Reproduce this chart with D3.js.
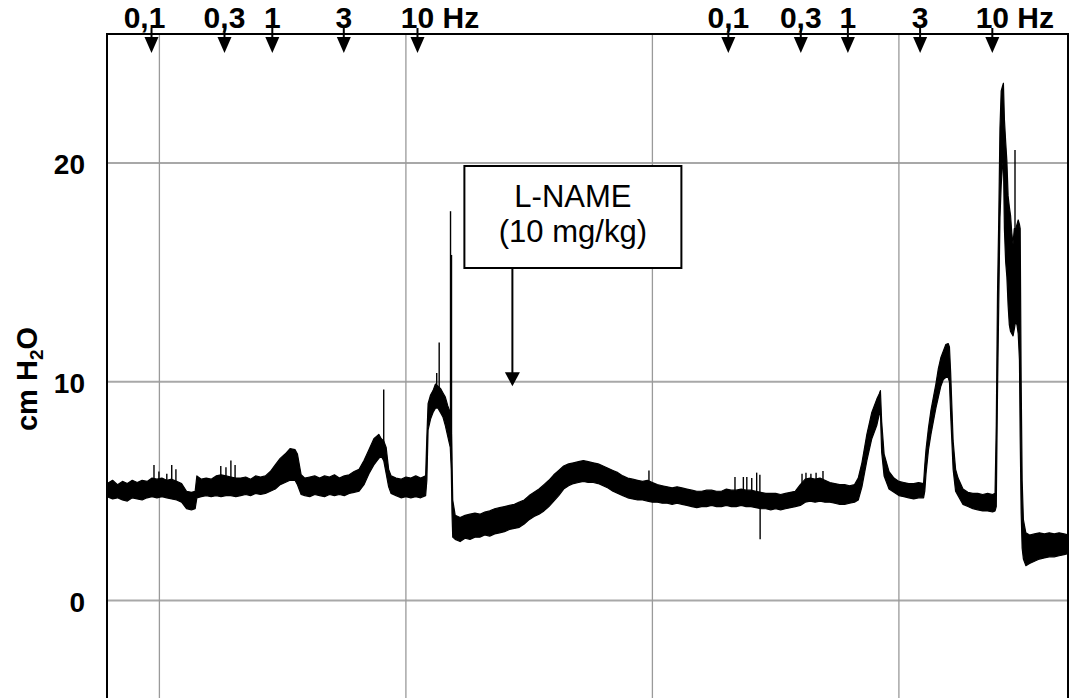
<!DOCTYPE html>
<html>
<head>
<meta charset="utf-8">
<script src="https://cdn.jsdelivr.net/npm/d3@7"></script>
<style>
  html, body { margin: 0; padding: 0; background: #fff; }
  svg { display: block; }
  text { font-family: Arial, "Liberation Sans", Helvetica, sans-serif; }
</style>
</head>
<body>
<svg id="chart" width="1071" height="698"></svg>
<script>
// Recording time (min) and the envelope of the pressure trace (cm H2O)
const time = [
  7.874, 8.1, 8.3, 8.5, 8.7, 8.9, 9.1, 9.3, 9.5, 9.7, 9.9, 10.1, 10.3, 10.5, 10.7, 10.9,
  11.1, 11.3, 11.45, 11.52, 11.7, 11.9, 12.1, 12.3, 12.5, 12.7, 12.9, 13.1, 13.3, 13.5, 13.7, 13.9,
  14.1, 14.3, 14.5, 14.7, 14.9, 15.1, 15.3, 15.5, 15.6, 15.75, 15.9, 16.1, 16.3, 16.5, 16.7, 16.9,
  17.1, 17.3, 17.5, 17.7, 17.9, 18.1, 18.3, 18.5, 18.7, 18.9, 19.0, 19.1, 19.2, 19.3, 19.4, 19.6,
  19.8, 20.0, 20.2, 20.4, 20.6, 20.8, 20.85, 20.9, 21.0, 21.1, 21.2, 21.3, 21.4, 21.5, 21.6, 21.7,
  21.8, 21.84, 21.87, 21.9, 22.0, 22.2, 22.4, 22.6, 22.8, 23.0, 23.2, 23.4, 23.6, 23.8, 24.0, 24.2,
  24.4, 24.6, 24.8, 25.0, 25.2, 25.4, 25.6, 25.8, 26.0, 26.2, 26.4, 26.6, 26.8, 27.0, 27.2, 27.4,
  27.6, 27.8, 28.0, 28.2, 28.4, 28.6, 28.8, 29.0, 29.2, 29.4, 29.6, 29.8, 30.0, 30.2, 30.4, 30.6,
  30.8, 31.0, 31.2, 31.4, 31.6, 31.8, 32.0, 32.2, 32.4, 32.6, 32.8, 33.0, 33.2, 33.4, 33.6, 33.8,
  34.0, 34.2, 34.4, 34.6, 34.8, 35.0, 35.2, 35.4, 35.6, 35.8, 36.0, 36.2, 36.4, 36.6, 36.8, 37.0,
  37.2, 37.4, 37.6, 37.8, 38.0, 38.2, 38.35, 38.5, 38.7, 38.9, 39.1, 39.2, 39.25, 39.3, 39.4, 39.6,
  39.8, 40.0, 40.2, 40.4, 40.6, 40.8, 41.0, 41.05, 41.1, 41.2, 41.3, 41.4, 41.5, 41.6, 41.7, 41.8,
  41.9, 42.0, 42.05, 42.1, 42.2, 42.3, 42.4, 42.6, 42.8, 43.0, 43.2, 43.4, 43.6, 43.8, 43.9, 43.95,
  44.0, 44.05, 44.1, 44.15, 44.2, 44.24, 44.28, 44.33, 44.38, 44.43, 44.48, 44.53, 44.58, 44.63, 44.68, 44.74,
  44.79, 44.84, 44.89, 44.92, 44.96, 45.0, 45.05, 45.15, 45.3, 45.5, 45.7, 45.9, 46.1, 46.3, 46.5, 46.7,
  46.86
];
const low = [
  4.75, 4.65, 4.7, 4.6, 4.55, 4.7, 4.65, 4.6, 4.7, 4.75, 4.7, 4.75, 4.7, 4.65, 4.6, 4.5,
  4.2, 4.15, 4.2, 4.7, 4.75, 4.8, 4.75, 4.8, 4.75, 4.8, 4.8, 4.75, 4.8, 4.85, 4.8, 4.9,
  4.85, 4.9, 5.0, 5.1, 5.3, 5.4, 5.5, 5.5, 5.3, 4.85, 4.8, 4.75, 4.85, 4.8, 4.75, 4.85,
  4.8, 4.85, 4.8, 4.9, 4.95, 5.0, 5.3, 5.8, 6.2, 6.5, 6.6, 6.4, 5.8, 5.2, 4.9, 4.8,
  4.7, 4.75, 4.7, 4.75, 4.7, 4.8, 5.5, 7.8, 8.3, 8.6, 8.8, 8.8, 8.6, 8.4, 8.0, 7.5,
  7.0, 6.0, 4.0, 2.9, 2.8, 2.7, 2.85, 2.8, 2.9, 2.9, 3.0, 2.95, 3.05, 3.1, 3.15, 3.25,
  3.3, 3.35, 3.5, 3.7, 3.85, 3.95, 4.1, 4.3, 4.55, 4.8, 5.1, 5.25, 5.35, 5.4, 5.45, 5.4,
  5.4, 5.35, 5.25, 5.15, 5.0, 4.9, 4.8, 4.7, 4.65, 4.6, 4.6, 4.55, 4.5, 4.5, 4.45, 4.45,
  4.4, 4.45, 4.4, 4.35, 4.3, 4.25, 4.3, 4.3, 4.35, 4.3, 4.3, 4.35, 4.3, 4.3, 4.35, 4.3,
  4.3, 4.25, 4.2, 4.2, 4.15, 4.2, 4.15, 4.2, 4.25, 4.3, 4.35, 4.5, 4.55, 4.5, 4.55, 4.5,
  4.5, 4.45, 4.4, 4.4, 4.45, 4.5, 4.6, 5.2, 6.4, 7.4, 8.0, 8.5, 8.6, 6.8, 5.7, 5.1,
  4.95, 4.8, 4.75, 4.7, 4.65, 4.7, 4.7, 5.0, 5.8, 6.9, 7.6, 8.2, 8.8, 9.3, 9.8, 10.1,
  10.2, 10.2, 10.0, 8.5, 6.0, 5.0, 4.8, 4.4, 4.3, 4.2, 4.15, 4.1, 4.1, 4.05, 4.1, 4.3,
  9.5, 13.5, 17.5, 19.0, 19.8, 20.2, 17.0, 15.5, 14.8, 13.5, 12.6, 12.3, 12.2, 12.1, 12.4, 12.8,
  12.6, 12.2, 11.0, 7.5, 4.0, 2.4, 1.9, 1.6, 1.7, 1.8, 1.9, 1.95, 2.0, 2.0, 2.05, 2.1,
  2.15
];
const high = [
  5.35, 5.5, 5.3, 5.45, 5.35, 5.5, 5.4, 5.5, 5.45, 5.6, 5.55, 5.6, 5.5, 5.55, 5.45, 5.35,
  5.0, 4.95, 5.0, 5.7, 5.55, 5.6, 5.55, 5.7, 5.75, 5.7, 5.65, 5.6, 5.6, 5.65, 5.55, 5.7,
  5.65, 5.7, 5.9, 6.2, 6.5, 6.7, 6.95, 6.9, 6.7, 5.75, 5.6, 5.65, 5.7, 5.6, 5.7, 5.65,
  5.75, 5.6, 5.7, 5.75, 5.9, 6.0, 6.4, 6.9, 7.4, 7.6, 7.4, 7.3, 7.0, 6.0, 5.7, 5.6,
  5.55, 5.65, 5.6, 5.7, 5.6, 5.7, 7.5, 9.0, 9.4, 9.6, 9.9, 9.8, 9.7, 9.5, 9.3, 8.9,
  8.6, 8.0, 6.5, 4.6, 3.9, 3.8, 3.9, 3.95, 4.0, 3.95, 4.05, 4.1, 4.2, 4.25, 4.3, 4.35,
  4.4, 4.5, 4.6, 4.8, 4.95, 5.1, 5.3, 5.5, 5.75, 5.95, 6.15, 6.25, 6.3, 6.35, 6.4, 6.35,
  6.3, 6.25, 6.15, 6.05, 5.95, 5.85, 5.7, 5.6, 5.55, 5.5, 5.45, 5.5, 5.4, 5.3, 5.25, 5.2,
  5.15, 5.2, 5.15, 5.1, 5.05, 5.0, 5.0, 5.05, 5.05, 5.0, 5.0, 5.1, 5.05, 5.05, 5.1, 5.05,
  5.05, 5.0, 4.95, 4.9, 4.9, 4.9, 4.85, 4.9, 4.95, 5.0, 5.3, 5.55, 5.6, 5.55, 5.6, 5.5,
  5.4, 5.35, 5.3, 5.3, 5.25, 5.3, 5.6, 6.3, 7.6, 8.6, 9.2, 9.45, 9.6, 8.2, 6.7, 5.9,
  5.6, 5.45, 5.4, 5.35, 5.35, 5.4, 5.35, 6.2, 6.9, 7.9, 8.7, 9.3, 9.9, 10.6, 11.1, 11.4,
  11.7, 11.75, 11.6, 10.4, 7.3, 6.0, 5.6, 5.1, 4.95, 4.9, 4.9, 4.85, 4.9, 4.85, 4.9, 8.0,
  14.0, 17.4, 21.6, 23.3, 23.5, 23.65, 22.0, 21.0, 20.1, 18.5, 18.0, 17.6, 16.8, 16.3, 17.0, 17.0,
  17.2, 17.4, 17.2, 17.0, 10.0, 5.5, 3.7, 3.1, 3.0, 3.05, 3.1, 3.05, 3.1, 3.05, 3.1, 3.05,
  3.0
];

// Isolated spikes on the trace (min, cm H2O)
const spikeTime = [9.78, 9.98, 10.30, 10.50, 10.67, 12.49, 12.70, 12.90, 13.07, 19.10, 21.25, 21.35,
  21.81, 21.85, 29.86, 33.35, 33.69, 33.83, 34.03, 34.23, 34.36, 34.37, 36.07, 36.23, 36.43, 36.64,
  36.92, 44.71];
const spikeValue = [6.2, 5.9, 5.8, 6.2, 6.0, 6.15, 6.1, 6.4, 6.2, 9.65, 10.4, 11.8,
  17.8, 15.8, 5.95, 5.65, 5.65, 5.65, 5.6, 5.85, 5.75, 2.8, 5.8, 5.85, 5.8, 5.85,
  5.92, 20.6];

// Stimulation markers
const stimTime = [9.68, 12.64, 14.58, 17.48, 20.47, 33.08, 36.02, 37.93, 40.86, 43.79];
const stimLabel = ["0,1", "0,3", "1", "3", "10", "0,1", "0,3", "1", "3", "10"];
const freqUnit = "Hz";

// Axis / grid values
const yTicks = [0, 10, 20];
const gridTimes = [10, 20, 30, 40];

// Drug injection
const drugTime = 24.32;
const drugArrowValue = 9.8;
const drugLabel = ["L-NAME", "(10 mg/kg)"];

const svg = d3.select("#chart");
const pL = 107, pR = 1068, pT = 34, pB = 710;

const x = d3.scaleLinear().domain([7.874, 46.86]).range([pL, pR]);
const y = d3.scaleLinear().domain([-5, 25.9]).range([pB, pT]);

// grid
svg.append("g")
  .selectAll("line").data(yTicks).join("line")
  .attr("x1", pL).attr("x2", pR)
  .attr("y1", d => y(d)).attr("y2", d => y(d))
  .attr("stroke", "#a8a8a8").attr("stroke-width", 2);
svg.append("g")
  .selectAll("line").data(gridTimes).join("line")
  .attr("x1", d => x(d)).attr("x2", d => x(d))
  .attr("y1", pT).attr("y2", pB)
  .attr("stroke", "#9a9a9a").attr("stroke-width", 1.3);

// y axis labels
const yAxis = svg.append("g")
  .attr("transform", `translate(${pL},0)`)
  .call(d3.axisLeft(y).tickValues(yTicks).tickSize(0).tickPadding(22).tickFormat(d3.format("d")));
yAxis.select(".domain").remove();
yAxis.selectAll("text")
  .attr("font-family", "Arial, 'Liberation Sans', sans-serif")
  .attr("font-size", 28).attr("font-weight", "bold").attr("fill", "#000")
  .attr("dy", "0.38em");

// y axis title
const yt = svg.append("text")
  .attr("transform", `translate(37,379) rotate(-90)`)
  .attr("text-anchor", "middle")
  .attr("font-size", 29).attr("font-weight", "bold");
yt.append("tspan").text("cm H");
yt.append("tspan").text("2").attr("font-size", 19).attr("dy", 6);
yt.append("tspan").text("O").attr("dy", -6);

// trace
svg.append("clipPath").attr("id", "plotclip")
  .append("rect").attr("x", pL).attr("y", pT).attr("width", pR - pL).attr("height", pB - pT);
const trace = svg.append("g").attr("clip-path", "url(#plotclip)");
const idx = d3.range(time.length);
trace.append("path")
  .datum(idx)
  .attr("d", d3.area().x(i => x(time[i])).y0(i => y(low[i])).y1(i => y(high[i])))
  .attr("fill", "#000").attr("stroke", "#000").attr("stroke-width", 1.2).attr("stroke-linejoin", "round");

function bandMid(t) {
  const i = Math.max(1, Math.min(time.length - 1, d3.bisectLeft(time, t)));
  const f = (t - time[i - 1]) / (time[i] - time[i - 1]);
  const lo = low[i - 1] + f * (low[i] - low[i - 1]);
  const hi = high[i - 1] + f * (high[i] - high[i - 1]);
  return (lo + hi) / 2;
}
trace.append("g")
  .selectAll("line").data(d3.range(spikeTime.length)).join("line")
  .attr("x1", i => x(spikeTime[i])).attr("x2", i => x(spikeTime[i]))
  .attr("y1", i => y(bandMid(spikeTime[i]))).attr("y2", i => y(spikeValue[i]))
  .attr("stroke", "#000").attr("stroke-width", 1.4);

// plot frame (open at the bottom)
svg.append("path")
  .attr("d", `M${pL},${pB + 5}V${pT}H${pR}V${pB + 5}`)
  .attr("fill", "none").attr("stroke", "#000").attr("stroke-width", 2);

// stimulation markers
const marks = svg.append("g");
stimTime.forEach((t, i) => {
  const cx = x(t);
  marks.append("line").attr("x1", cx).attr("x2", cx).attr("y1", 28).attr("y2", 38)
    .attr("stroke", "#000").attr("stroke-width", 2);
  marks.append("path").attr("d", `M${cx - 7},37L${cx + 7},37L${cx},53Z`).attr("fill", "#000");
  const nudge = i === 0 ? -7 : 0;
  const lab = marks.append("text")
    .attr("y", 28).attr("font-size", 30).attr("font-weight", "bold").text(stimLabel[i]);
  const w = lab.node().getComputedTextLength();
  lab.attr("x", cx - w / 2 + nudge);
  if (stimLabel[i] === "10") lab.append("tspan").text("\u00a0" + freqUnit);
});

// drug annotation
const ax = x(drugTime);
const boxL = ax - 48, boxT = 166, boxW = 217, boxH = 102;
svg.append("rect").attr("x", boxL).attr("y", boxT).attr("width", boxW).attr("height", boxH)
  .attr("fill", "#fff").attr("stroke", "#000").attr("stroke-width", 2);
svg.append("text").attr("x", boxL + boxW / 2).attr("y", 207).attr("text-anchor", "middle")
  .attr("font-size", 31).text(drugLabel[0]);
svg.append("text").attr("x", boxL + boxW / 2).attr("y", 242).attr("text-anchor", "middle")
  .attr("font-size", 31).text(drugLabel[1]);
const tipY = y(drugArrowValue);
svg.append("line").attr("x1", ax).attr("x2", ax).attr("y1", boxT + boxH).attr("y2", tipY - 10)
  .attr("stroke", "#000").attr("stroke-width", 2);
svg.append("path").attr("d", `M${ax - 7.5},${tipY - 14}L${ax + 7.5},${tipY - 14}L${ax},${tipY}Z`).attr("fill", "#000");
</script>
</body>
</html>
